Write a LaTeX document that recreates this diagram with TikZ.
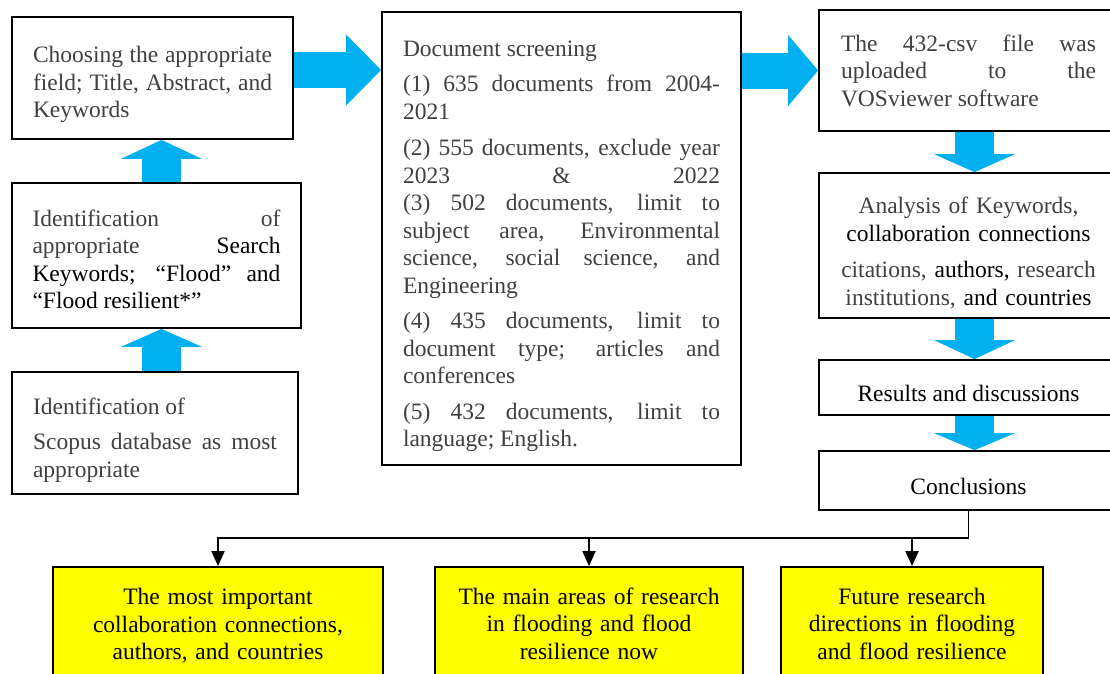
\documentclass[tikz,border=0pt]{standalone}
\usepackage{fontspec}
\setmainfont{Liberation Serif}
\usetikzlibrary{arrows.meta}

\definecolor{arrowblue}{RGB}{0,176,240}
\definecolor{boxyellow}{RGB}{255,255,0}
\definecolor{greytext}{RGB}{64,64,64}

% tall invisible strut on the first line, pushes the text down
\newcommand{\down}[1]{\rule{0pt}{#1}}

\begin{document}
\begin{tikzpicture}
    [
      x=1pt, y=1pt,
      every node/.style={font=\fontsize{23.5}{27.5}\selectfont},
      box/.style={draw=black, line width=1.8pt, inner sep=0pt, text=greytext, align=justify},
      result/.style={box, fill=boxyellow, text=black, align=center},
      blockarrow/.style={arrowblue, line width=#1},
      link/.style={line width=1.8pt, -{Triangle[width=13pt,length=15pt]}},
    ]

    \useasboundingbox (0,0) rectangle (1110,-673);
    \clip (0,0) rectangle (1110,-673);

    % left column
    \node [box, minimum width=281pt, minimum height=122pt, text width=239pt] (choose) at (152.5,-78)
      {\down{30pt}Choosing the appropriate\linebreak field; Title, Abstract, and\linebreak Keywords};
    \node [box, minimum width=289pt, minimum height=145pt, text width=248pt] (ident) at (156.5,-255.5)
      {\down{24pt}Identification of\linebreak appropriate \textcolor{black}{Search}\linebreak
       \textcolor{black}{Keywords; “Flood” and\linebreak “Flood resilient*”}};
    \node [box, minimum width=286pt, minimum height=122pt, text width=244pt] (scopus) at (155,-433)
      {\down{30pt}Identification of\\[8pt] Scopus database as most\linebreak appropriate};

    % screening
    \node [box, minimum width=359pt, minimum height=453pt, text width=317pt] (doc) at (561.5,-238.5)
      {\down{31pt}Document screening\\[8pt]
       (1) 635 documents from 2004-\linebreak 2021\\[9pt]
       (2) 555 documents, exclude year\linebreak 2023 \& 2022\linebreak
       (3) 502 documents, limit to\linebreak subject area, Environmental\linebreak
       science, social science, and\linebreak Engineering\\[8pt]
       (4) 435 documents, limit to\linebreak document type; articles and\linebreak conferences\\[8pt]
       (5) 432 documents, limit to\linebreak language; English.};

    % right column
    \node [box, minimum width=299pt, minimum height=121pt, text width=255pt] (csv) at (968.5,-70.5)
      {The 432-csv file was\linebreak uploaded to the\linebreak VOSviewer software};
    \node [box, align=center, minimum width=299pt, minimum height=145pt, text width=275pt] (anal) at (968.5,-245.5)
      {\down{32pt}Analysis of Keywords,\\ \textcolor{black}{collaboration connections}\\[9pt]
       citations, \textcolor{black}{authors,} research\\ institutions, \textcolor{black}{and countries}};
    \node [box, text=black, minimum width=299pt, minimum height=55pt] (res) at (968.5,-387.5)
      {\raisebox{-6pt}[\height][\depth]{Results and discussions}};
    \node [box, text=black, minimum width=299pt, minimum height=59pt] (conc) at (968.5,-480.5)
      {\raisebox{-6pt}[\height][\depth]{Conclusions}};

    % outcomes
    \node [result, minimum width=330pt, minimum height=112pt, text width=310pt] (most) at (218,-623)
      {\down{22pt}The most important\\ collaboration connections,\\ authors, and countries};
    \node [result, minimum width=308pt, minimum height=112pt, text width=290pt] (areas) at (589,-623)
      {\down{18pt}The main areas of research\\ in flooding and flood\\ resilience now};
    \node [result, minimum width=262pt, minimum height=112pt, text width=245pt] (future) at (912,-623)
      {\down{18pt}Future research\\ directions in flooding\\ and flood resilience};

    % blue block arrows
    \coordinate (upx) at (161.5,0);
    \draw [blockarrow=39pt, -{Triangle[width=81pt,length=19pt,line width=0pt]}]
      (upx |- ident.north) -- (upx |- choose.south);
    \draw [blockarrow=39pt, -{Triangle[width=81pt,length=18pt,line width=0pt]}]
      (upx |- scopus.north) -- (upx |- ident.south);

    \coordinate (a1) at ([yshift=8pt]choose.east);
    \draw [blockarrow=36pt, -{Triangle[width=71pt,length=35pt,line width=0pt]}]
      (a1) -- (a1 -| doc.west);
    \draw [blockarrow=36pt, -{Triangle[width=71pt,length=30pt,line width=0pt]}]
      (csv.west -| doc.east) -- (csv.west);

    \coordinate (dnx) at (974.5,0);
    \draw [blockarrow=39pt, -{Triangle[width=81pt,length=18pt,line width=0pt]}]
      (dnx |- csv.south) -- (dnx |- anal.north);
    \draw [blockarrow=39pt, -{Triangle[width=81pt,length=19pt,line width=0pt]}]
      (dnx |- anal.south) -- (dnx |- res.north);
    \draw [blockarrow=39pt, -{Triangle[width=81pt,length=17pt,line width=0pt]}]
      (dnx |- res.south) -- (dnx |- conc.north);

    % split to the outcomes
    \coordinate (fork) at (conc.south |- 0,-538);
    \draw [link] (conc.south) -- (fork) -- (fork -| most.north) -- (most.north);
    \draw [link] (fork -| areas.north) -- (areas.north);
    \draw [link] (fork -| future.north) -- (future.north);
  \end{tikzpicture}
\end{document}
